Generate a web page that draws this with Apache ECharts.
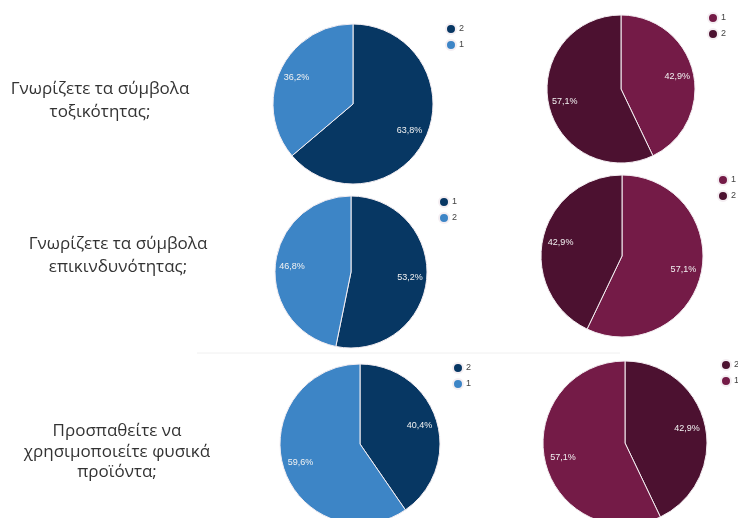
<!DOCTYPE html>
<html>
<head>
<meta charset="utf-8">
<script src="https://cdn.jsdelivr.net/npm/echarts@6/dist/echarts.min.js"></script>
<style>
html,body{margin:0;padding:0;background:#fff;}
#chart{width:738px;height:518px;}
</style>
</head>
<body>
<div id="chart"></div>
<script>
// ---- data ----
const questions = [
  'Γνωρίζετε τα σύμβολα\nτοξικότητας;',
  'Γνωρίζετε τα σύμβολα\nεπικινδυνότητας;',
  'Προσπαθείτε να\nχρησιμοποιείτε φυσικά\nπροϊόντα;'
];
const cats1 = ['2', '1']; const vals1 = [63.8, 36.2];
const cats2 = ['1', '2']; const vals2 = [42.9, 57.1];
const cats3 = ['1', '2']; const vals3 = [53.2, 46.8];
const cats4 = ['1', '2']; const vals4 = [57.1, 42.9];
const cats5 = ['2', '1']; const vals5 = [40.4, 59.6];
const cats6 = ['2', '1']; const vals6 = [42.9, 57.1];

// ---- styling / layout ----
const BLUE_DARK = '#073763', BLUE_LIGHT = '#3d85c6';
const MAROON = '#741b47', MAROON_DARK = '#4c1130';
const blueByOrder = (cats) => cats.map((c, i) => i === 0 ? BLUE_DARK : BLUE_LIGHT);
const maroonByCat = (cats) => cats.map(c => c === '1' ? MAROON : MAROON_DARK);

const charts = [
  {cats: cats1, vals: vals1, colors: blueByOrder(cats1),  center: [353, 104], r: 80, legend: [445, 23]},
  {cats: cats2, vals: vals2, colors: maroonByCat(cats2),  center: [621, 89],  r: 74, legend: [707, 12]},
  {cats: cats3, vals: vals3, colors: blueByOrder(cats3),  center: [351, 272], r: 76, legend: [438, 196]},
  {cats: cats4, vals: vals4, colors: maroonByCat(cats4),  center: [622, 256], r: 81, legend: [717, 174]},
  {cats: cats5, vals: vals5, colors: blueByOrder(cats5),  center: [360, 444], r: 80, legend: [452, 362]},
  {cats: cats6, vals: vals6, colors: maroonByCat(cats6),  center: [625, 443], r: 82, legend: [720, 359]}
];
const textPos = [[100, 78], [118, 233], [117, 421]];
const textLH = [23, 23, 20.5];

const key = (k, c) => 'c' + k + '|' + c;
const fmtPct = (v) => v.toFixed(1).replace('.', ',') + '%';

const series = [];
const legends = [];
charts.forEach((ch, k) => {
  series.push({
    type: 'pie',
    center: ch.center,
    radius: [0, ch.r],
    startAngle: 90,
    clockwise: true,
    silent: true,
    label: {show: false},
    labelLine: {show: false},
    itemStyle: {borderColor: '#f4eef2', borderWidth: 1},
    emphasis: {disabled: true},
    data: ch.cats.map((c, i) => ({name: key(k, c), value: ch.vals[i], itemStyle: {color: ch.colors[i]}}))
  });
  legends.push({
    orient: 'vertical',
    left: ch.legend[0],
    top: ch.legend[1],
    icon: 'circle',
    itemWidth: 10,
    itemHeight: 10,
    itemGap: 4,
    padding: 0,
    selectedMode: false,
    data: ch.cats.map(c => key(k, c)),
    formatter: (name) => name.split('|')[1],
    textStyle: {fontSize: 9, color: '#444', fontFamily: 'Liberation Sans, Arial, sans-serif', padding: [0, 0, 0, -2]}
  });
});
// label overlays (transparent rings so labels sit ~3/4 of the radius out)
charts.forEach((ch, k) => {
  series.push({
    type: 'pie',
    center: ch.center,
    radius: [ch.r * 0.48, ch.r],
    startAngle: 90,
    clockwise: true,
    silent: true,
    emphasis: {disabled: true},
    labelLine: {show: false},
    itemStyle: {color: 'rgba(0,0,0,0)', borderWidth: 0},
    label: {
      show: true,
      position: 'inside',
      color: '#f2f2f2',
      fontSize: 9,
      fontFamily: 'Liberation Sans, Arial, sans-serif',
      formatter: (p) => fmtPct(p.value)
    },
    data: ch.cats.map((c, i) => ({name: key(k, c), value: ch.vals[i]}))
  });
});

const graphics = questions.map((q, i) => ({
  type: 'text',
  x: textPos[i][0],
  y: textPos[i][1],
  silent: true,
  style: {
    text: q,
    textAlign: 'center',
    textVerticalAlign: 'top',
    fontSize: 17,
    fontFamily: 'Open Sans, Noto Sans, sans-serif',
    lineHeight: textLH[i],
    fill: '#333333'
  }
}));
graphics.push({
  type: 'line',
  silent: true,
  shape: {x1: 197, y1: 353, x2: 620, y2: 353},
  style: {stroke: '#f0f0f0', lineWidth: 1}
});

const chart = echarts.init(document.getElementById('chart'), null, {renderer: 'canvas'});
chart.setOption({
  backgroundColor: '#ffffff',
  animation: false,
  legend: legends,
  graphic: graphics,
  series: series
});
</script>
</body>
</html>
